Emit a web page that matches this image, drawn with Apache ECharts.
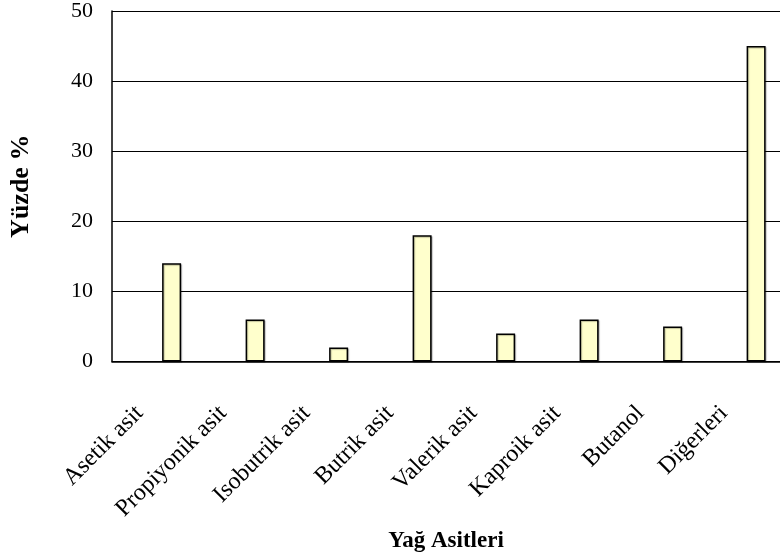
<!DOCTYPE html>
<html>
<head>
<meta charset="utf-8">
<script src="https://cdn.jsdelivr.net/npm/echarts@6/dist/echarts.min.js"></script>
<style>
  html, body { margin: 0; padding: 0; background: #fff; }
  #chart { width: 780px; height: 560px; }
</style>
</head>
<body>
<div id="chart"></div>
<script>
// Fatty-acid composition (percent)
const categories = ['Asetik asit', 'Propiyonik asit', 'Isobutrik asit', 'Butrik asit',
                    'Valerik asit', 'Kaproik asit', 'Butanol', 'Diğerleri'];
const percentages = [14, 6, 2, 18, 4, 6, 5, 45];
const yTickMin = 0;
const yTickMax = 50;
const yTickStep = 10;

const serif = 'Liberation Serif';

// The workbook this chart comes from has three series per category; only the
// third one carries values, which is why each bar sits right of the category centre.
const emptySeries = categories.map(() => null);

const barStyle = {
  color: '#FFFFCC',
  borderColor: '#000',
  borderWidth: 1.5,
  shadowColor: 'rgba(0,0,0,0.25)',
  shadowOffsetX: 1,
  shadowOffsetY: 1,
  shadowBlur: 1
};

const chart = echarts.init(document.getElementById('chart'), null, { renderer: 'canvas' });
chart.setOption({
  animation: false,
  backgroundColor: '#fff',
  grid: { left: 112, top: 11, right: -5, bottom: 198.5, containLabel: false },
  xAxis: {
    type: 'category',
    data: categories,
    name: 'Yağ Asitleri',
    nameLocation: 'middle',
    nameGap: 168,
    nameTextStyle: { fontFamily: serif, fontWeight: 'bold', fontSize: 23, color: '#000' },
    axisLine: { show: true, lineStyle: { color: '#000', width: 1.5 } },
    axisTick: { show: false },
    axisLabel: {
      rotate: 45, margin: 34, padding: [0, 20, 0, 0],
      fontFamily: serif, fontSize: 24, color: '#000', interval: 0
    }
  },
  yAxis: {
    type: 'value',
    min: yTickMin,
    max: yTickMax,
    interval: yTickStep,
    name: 'Yüzde %',
    nameLocation: 'middle',
    nameGap: 78,
    nameTextStyle: { fontFamily: serif, fontWeight: 'bold', fontSize: 26, color: '#000' },
    axisLine: { show: true, lineStyle: { color: '#000', width: 1.5 } },
    axisTick: { show: false },
    axisLabel: { margin: 19, fontFamily: serif, fontSize: 22, color: '#000' },
    splitLine: { show: true, lineStyle: { color: '#000', width: 1 } }
  },
  series: [
    { name: 'seri1', type: 'bar', data: emptySeries, barWidth: 19, barGap: '-6%' },
    { name: 'seri2', type: 'bar', data: emptySeries, barWidth: 19, barGap: '-6%' },
    { name: 'Yüzde', type: 'bar', data: percentages, barWidth: 19, barGap: '-6%', itemStyle: barStyle }
  ]
});
</script>
</body>
</html>
